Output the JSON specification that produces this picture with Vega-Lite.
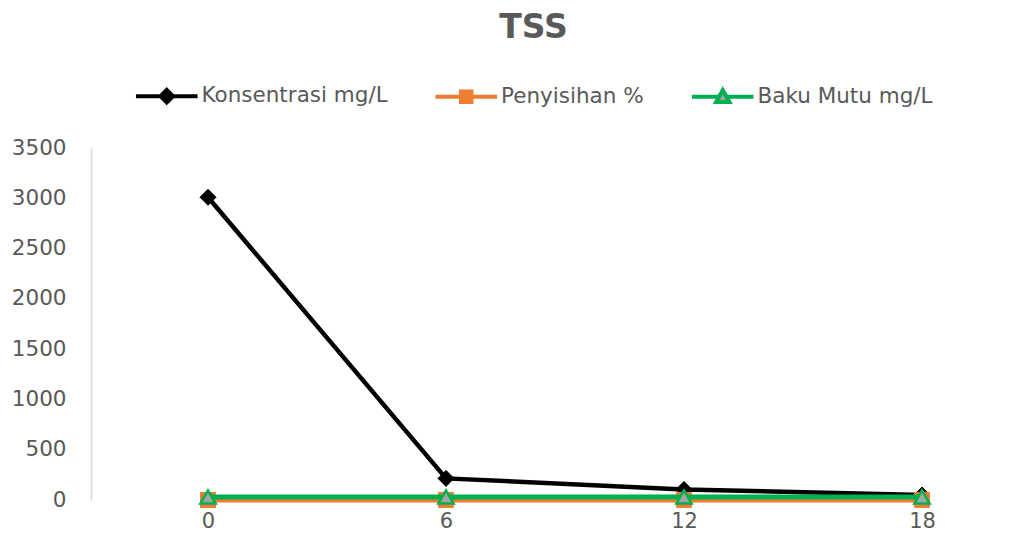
{
  "$schema": "https://vega.github.io/schema/vega-lite/v6.json",
  "width": 941,
  "height": 352,
  "autosize": {"type": "none"},
  "padding": {"left": 91, "top": 148, "right": 0, "bottom": 38},
  "background": "white",
  "title": {
    "text": "TSS",
    "anchor": "middle",
    "frame": "group",
    "dx": -28,
    "offset": 40,
    "font": "DejaVu Sans",
    "fontSize": 33,
    "fontWeight": "bold",
    "color": "#595959"
  },
  "data": {
    "values": [
      {"jam": "0", "seri": "Konsentrasi mg/L", "nilai": 3010},
      {"jam": "6", "seri": "Konsentrasi mg/L", "nilai": 215},
      {"jam": "12", "seri": "Konsentrasi mg/L", "nilai": 105},
      {"jam": "18", "seri": "Konsentrasi mg/L", "nilai": 50},
      {"jam": "0", "seri": "Penyisihan %", "nilai": 0},
      {"jam": "6", "seri": "Penyisihan %", "nilai": 0.929},
      {"jam": "12", "seri": "Penyisihan %", "nilai": 0.965},
      {"jam": "18", "seri": "Penyisihan %", "nilai": 0.983},
      {"jam": "0", "seri": "Baku Mutu mg/L", "nilai": 30},
      {"jam": "6", "seri": "Baku Mutu mg/L", "nilai": 30},
      {"jam": "12", "seri": "Baku Mutu mg/L", "nilai": 30},
      {"jam": "18", "seri": "Baku Mutu mg/L", "nilai": 30}
    ]
  },
  "encoding": {
    "x": {
      "field": "jam",
      "type": "ordinal",
      "sort": ["0", "6", "12", "18"],
      "scale": {"type": "point", "domain": ["0", "6", "12", "18"], "range": [117, 831], "padding": 0},
      "axis": {
        "title": null,
        "labelAngle": 0,
        "ticks": false,
        "grid": false,
        "domainColor": "#d9d9d9",
        "domainWidth": 1.5,
        "labelFont": "DejaVu Sans",
        "labelFontSize": 21,
        "labelColor": "#595959",
        "labelPadding": 10
      }
    },
    "y": {
      "field": "nilai",
      "type": "quantitative",
      "scale": {"domain": [0, 3500], "nice": false, "zero": true},
      "axis": {
        "title": null,
        "values": [0, 500, 1000, 1500, 2000, 2500, 3000, 3500],
        "format": "d",
        "ticks": false,
        "grid": false,
        "domainColor": "#d9d9d9",
        "domainWidth": 1.5,
        "labelFont": "DejaVu Sans",
        "labelFontSize": 21.5,
        "labelColor": "#595959",
        "labelPadding": 25
      }
    }
  },
  "layer": [
    {
      "transform": [{"filter": "datum.seri === 'Konsentrasi mg/L'"}],
      "mark": {"type": "line", "strokeWidth": 4.5},
      "encoding": {
        "stroke": {
          "field": "seri",
          "type": "nominal",
          "scale": {
            "domain": ["Konsentrasi mg/L", "Penyisihan %", "Baku Mutu mg/L"],
            "range": ["#000000", "#ed7d31", "#00b050"]
          },
          "legend": {
            "orient": "none",
            "legendX": 65,
            "legendY": -63,
            "direction": "horizontal",
            "title": null,
            "padding": 0,
            "labelFont": "DejaVu Sans",
            "labelFontSize": 21.5,
            "labelColor": "#595959",
            "labelLimit": 0,
            "symbolSize": 196,
            "labelOffset": 24,
            "columnPadding": 38.5,
            "encode": {
              "symbols": {
                "update": {
                  "shape": {"signal": "datum.value === 'Konsentrasi mg/L' ? 'M-4.4,0L4.4,0M0,-0.9L0.9,0L0,0.9L-0.9,0Z' : datum.value === 'Penyisihan %' ? 'M-4.4,0L4.4,0M-0.75,-0.75L0.75,-0.75L0.75,0.75L-0.75,0.75Z' : 'M-4.4,0L-0.55,0M0.55,0L4.4,0M0,-0.95L0.95,0.75L-0.95,0.75Z'"},
                  "fill": {"signal": "datum.value === 'Konsentrasi mg/L' ? '#000000' : datum.value === 'Penyisihan %' ? '#ed7d31' : '#a5a5a5'"},
                  "stroke": {"signal": "datum.value === 'Konsentrasi mg/L' ? '#000000' : datum.value === 'Penyisihan %' ? '#ed7d31' : '#00b050'"},
                  "strokeWidth": {"value": 4},
                  "opacity": {"value": 1}
                }
              }
            }
          }
        }
      }
    },
    {
      "transform": [{"filter": "datum.seri === 'Konsentrasi mg/L'"}],
      "mark": {"type": "point", "shape": "diamond", "size": 256, "filled": true, "fill": "#000000", "stroke": "#000000", "strokeWidth": 1, "opacity": 1}
    },
    {
      "transform": [{"filter": "datum.seri === 'Penyisihan %'"}],
      "mark": {"type": "line", "strokeWidth": 5},
      "encoding": {"stroke": {"field": "seri", "type": "nominal"}}
    },
    {
      "transform": [{"filter": "datum.seri === 'Penyisihan %'"}],
      "mark": {"type": "point", "shape": "square", "size": 225, "filled": true, "fill": "#ed7d31", "stroke": "#ed7d31", "strokeWidth": 1, "opacity": 1}
    },
    {
      "transform": [{"filter": "datum.seri === 'Baku Mutu mg/L'"}],
      "mark": {"type": "line", "strokeWidth": 5},
      "encoding": {"stroke": {"field": "seri", "type": "nominal"}}
    },
    {
      "transform": [{"filter": "datum.seri === 'Baku Mutu mg/L'"}],
      "mark": {"type": "point", "shape": "triangle-up", "size": 230, "filled": true, "fill": "#a5a5a5", "stroke": "#00b050", "strokeWidth": 2.5, "opacity": 1}
    }
  ],
  "config": {
    "view": {"stroke": null},
    "font": "DejaVu Sans"
  }
}
